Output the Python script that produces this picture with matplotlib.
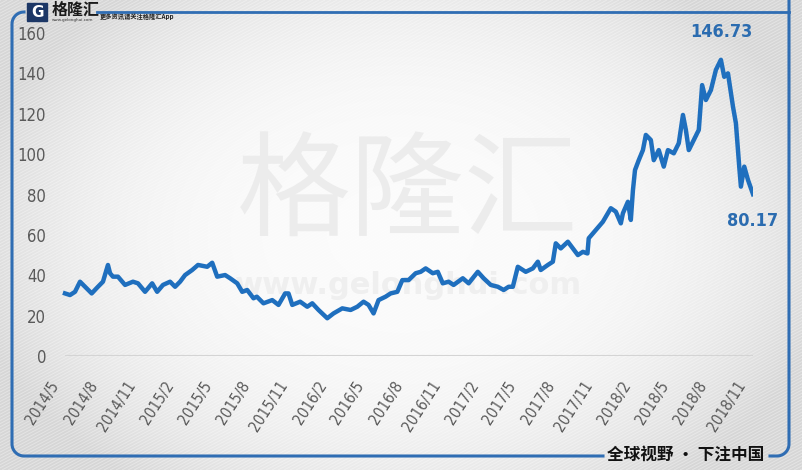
import numpy as np
import pandas as pd
import matplotlib
matplotlib.use('Agg')
import matplotlib.pyplot as plt
import matplotlib.transforms as mtransforms
from matplotlib.collections import LineCollection

# price series
dates = ['2014-05-13', '2014-05-25', '2014-06-06', '2014-06-18', '2014-06-30', '2014-07-16',
         '2014-07-31', '2014-08-12', '2014-08-24', '2014-08-29', '2014-09-05', '2014-09-17',
         '2014-10-04', '2014-10-23', '2014-11-04', '2014-11-21', '2014-12-08', '2014-12-20',
         '2015-01-03', '2015-01-20', '2015-02-01', '2015-02-13', '2015-02-25', '2015-03-14',
         '2015-03-28', '2015-04-19', '2015-05-01', '2015-05-13', '2015-06-01', '2015-06-13',
         '2015-06-30', '2015-07-12', '2015-07-24', '2015-08-08', '2015-08-16', '2015-09-01',
         '2015-09-22', '2015-10-07', '2015-10-23', '2015-10-31', '2015-11-09', '2015-11-28',
         '2015-12-15', '2015-12-27', '2016-01-11', '2016-02-01', '2016-02-16', '2016-03-08',
         '2016-03-28', '2016-04-13', '2016-04-28', '2016-05-10', '2016-05-22', '2016-06-03',
         '2016-06-20', '2016-07-02', '2016-07-18', '2016-07-30', '2016-08-14', '2016-08-31',
         '2016-09-12', '2016-09-24', '2016-10-11', '2016-10-23', '2016-11-04', '2016-11-18',
         '2016-11-30', '2016-12-22', '2017-01-05', '2017-01-27', '2017-02-10', '2017-02-27',
         '2017-03-16', '2017-03-30', '2017-04-11', '2017-04-21', '2017-05-03', '2017-05-22',
         '2017-06-08', '2017-06-20', '2017-06-27', '2017-07-14', '2017-07-26', '2017-08-02',
         '2017-08-14', '2017-08-31', '2017-09-12', '2017-09-24', '2017-10-06', '2017-10-17',
         '2017-10-20', '2017-11-06', '2017-11-23', '2017-12-12', '2017-12-24', '2018-01-05',
         '2018-01-10', '2018-01-22', '2018-01-29', '2018-02-03', '2018-02-08', '2018-02-17',
         '2018-02-27', '2018-03-06', '2018-03-18', '2018-03-25', '2018-04-06', '2018-04-18',
         '2018-04-28', '2018-05-12', '2018-05-24', '2018-06-03', '2018-06-10', '2018-06-17',
         '2018-06-29', '2018-07-11', '2018-07-19', '2018-07-28', '2018-08-09', '2018-08-21',
         '2018-09-02', '2018-09-10', '2018-09-19', '2018-10-01', '2018-10-08', '2018-10-16',
         '2018-10-20', '2018-10-28', '2018-11-06', '2018-11-18']
prices = [31.0, 30.2, 31.8, 36.8, 34.3, 31.0,
          34.3, 36.8, 45.1, 41.0, 39.3, 39.3,
          35.2, 36.8, 36.0, 31.8, 36.0, 31.8,
          35.2, 36.8, 34.3, 36.8, 40.1, 42.6,
          45.1, 44.2, 46.2, 39.3, 40.1, 38.5,
          36.0, 31.8, 32.7, 28.6, 29.4, 26.1,
          27.7, 25.3, 31.0, 31.0, 25.3, 26.9,
          24.4, 26.1, 22.8, 18.7, 21.1, 23.6,
          22.8, 24.4, 26.9, 25.3, 21.1, 27.7,
          29.4, 31.0, 31.8, 37.6, 37.6, 41.0,
          41.7, 43.4, 41.0, 41.7, 36.0, 36.8,
          35.2, 38.5, 36.0, 41.7, 38.5, 35.2,
          34.3, 32.7, 34.3, 34.3, 44.2, 41.7,
          43.4, 46.7, 42.6, 45.1, 46.7, 55.8,
          53.3, 56.6, 53.3, 50.0, 51.6, 50.8,
          58.3, 62.4, 66.5, 73.2, 71.5, 65.7,
          70.7, 76.4, 67.4, 82.0, 92.1, 97.0,
          102.0, 109.5, 107.0, 97.0, 102.0, 93.8,
          102.0, 100.4, 105.4, 119.4, 112.0, 102.0,
          107.0, 112.0, 134.2, 126.8, 131.7, 141.7,
          146.73, 138.3, 140.0, 123.5, 115.3, 93.8,
          83.9, 93.8, 87.2, 80.17]

y_ticks = [0, 20, 40, 60, 80, 100, 120, 140, 160]
tick_months = pd.date_range('2014-05-01', '2018-11-01', freq='3MS')
tick_labels = [f'{d.year}/{d.month}' for d in tick_months]

line_color = '#1f6fbe'
frame_color = '#2f6db3'
label_color = '#595959'

x = pd.to_datetime(dates)
W, H = 802, 470

fig = plt.figure(figsize=(W / 100, H / 100), dpi=100)

# ---- background layer in pixel coordinates ----
bg = fig.add_axes([0, 0, 1, 1], zorder=0)
bg.set_xlim(0, W)
bg.set_ylim(H, 0)
bg.axis('off')

gx, gy = np.meshgrid(np.linspace(-1, 1, 400), np.linspace(-1, 1, 240))
r = np.sqrt(gx ** 2 + (gy / 1.2) ** 2)
shade = 0.985 - 0.11 * np.clip(r, 0, 1.6) ** 3
shade = np.clip(shade, 0.84, 1.0)
bg.imshow(np.dstack([shade] * 3), extent=[0, W, H, 0], aspect='auto', zorder=0)

# diagonal stripes
segs = []
for c in np.arange(-2 * H, W + 10, 6):
    segs.append([(c, H), (c + H * 1.9, 0)])
bg.add_collection(LineCollection(segs, colors='white', linewidths=0.7, alpha=0.35, zorder=1))

# frame
def arc(cx, cy, rad, a0, a1):
    t = np.radians(np.linspace(a0, a1, 12))
    return list(cx + rad * np.cos(t)), list(cy + rad * np.sin(t))

ax1, ay1 = arc(24, 24, 12, 270, 180)
ax2, ay2 = arc(24, 444, 12, 180, 90)
bg.plot(ax1 + [12] + ax2 + [603], ay1 + [24] + ay2 + [456], color=frame_color, lw=2.2, zorder=3)
ax3, ay3 = arc(777, 444, 12, 90, 0)
bg.plot([770] + ax3 + [789], [456] + ay3 + [0], color=frame_color, lw=2.2, zorder=3)
bg.plot([97, 789], [12, 12], color=frame_color, lw=2, zorder=3)

# logo
bg.add_patch(plt.Rectangle((27, 3), 20, 18, color='#1c3766', zorder=4))
bg.text(37, 12.5, 'G', color='white', fontsize=11, fontweight='bold', ha='center', va='center', zorder=5)
bg.text(52, 10, '格隆汇', family=['Noto Sans CJK SC', 'DejaVu Sans'], fontsize=11.5, fontweight='bold',
        color='#1a1a1a', ha='left', va='center', zorder=5)
bg.text(52, 20, 'www.gelonghui.com', fontsize=3, color='#333333', ha='left', va='center', zorder=5)
bg.text(100, 17, '更多资讯请关注格隆汇App', family=['Noto Sans CJK SC', 'DejaVu Sans'], fontsize=4.5,
        fontweight='bold', color='#222222', ha='left', va='center', zorder=5)

# watermark
bg.text(408, 195, '格隆汇', family=['Noto Sans CJK SC', 'DejaVu Sans'], fontsize=82, fontweight='light',
        color='#ececec', ha='center', va='center', zorder=2)
bg.text(408, 285, 'www.gelonghui.com', fontsize=22, fontweight='bold', color='#efefef',
        ha='center', va='center', zorder=2)

# footer slogan
bg.text(686, 456, '全球视野 · 下注中国', family=['Noto Sans CJK SC', 'DejaVu Sans'], fontsize=12,
        fontweight='bold', color='#111111', ha='center', va='center', zorder=5)

# ---- main chart ----
left, right = 60 / W, 753 / W
bottom, top = (H - 356) / H, (H - 33) / H
ax = fig.add_axes([left, bottom, right - left, top - bottom], zorder=2)
ax.patch.set_alpha(0)
ax.set_xlim(pd.Timestamp('2014-05-01'), x[-1])
ax.set_ylim(0, 160)

ax.hlines(0, x[0], x[-1], color='#d4d4d4', lw=1.5, zorder=1)
ax.plot(x, prices, color=line_color, lw=3.2, solid_joinstyle='round', zorder=3)

imax = int(np.argmax(prices))
ax.annotate(f'{prices[imax]:.2f}', (x[imax], prices[imax]), xytext=(0, 20), textcoords='offset points',
            ha='center', va='center', fontsize=13, fontweight='bold', color='#2b6cb0',
            fontstretch='condensed')
ax.annotate(f'{prices[-1]:.2f}', (x[-1], prices[-1]), xytext=(0, -19), textcoords='offset points',
            ha='center', va='center', fontsize=13, fontweight='bold', color='#2b6cb0',
            fontstretch='condensed')

for s in ax.spines.values():
    s.set_visible(False)
ax.set_yticks(y_ticks)
ax.set_xticks(tick_months)
ax.set_xticklabels(tick_labels, rotation=57, ha='right', va='center', rotation_mode='anchor')
ax.tick_params(axis='both', length=0, colors=label_color, labelsize=12)
ax.tick_params(axis='x', labelsize=11, pad=19)
ax.tick_params(axis='y', pad=10)
shift = mtransforms.ScaledTranslation(-4 / 100, 0, fig.dpi_scale_trans)
for t in ax.get_xticklabels():
    t.set_fontstretch('condensed')
    t.set_transform(t.get_transform() + shift)
for t in ax.get_yticklabels():
    t.set_fontstretch('condensed')

fig.savefig('out.png', dpi=100)
